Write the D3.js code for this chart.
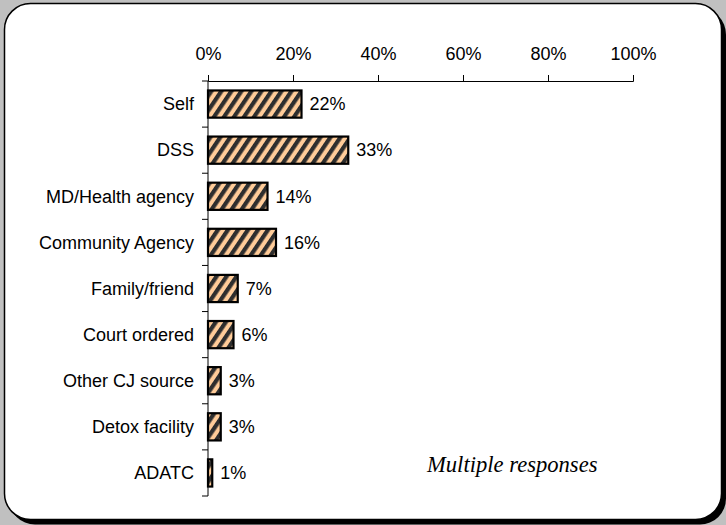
<!DOCTYPE html>
<html><head><meta charset="utf-8">
<script src="https://cdn.jsdelivr.net/npm/d3@7/dist/d3.min.js"></script>
<style>body{margin:0;background:#c0c0c0;}svg{display:block;}</style>
</head><body>
<script>
const categories = ["Self","DSS","MD/Health agency","Community Agency","Family/friend","Court ordered","Other CJ source","Detox facility","ADATC"];
const values = [22,33,14,16,7,6,3,3,1];
const tickValues = [0,20,40,60,80,100];
const note = "Multiple responses";

const W=726,H=525;
const svg=d3.select("body").append("svg").attr("width",W).attr("height",H);
const defs=svg.append("defs");
const pat=defs.append("pattern").attr("id","hatch").attr("patternUnits","userSpaceOnUse")
  .attr("width",8.3).attr("height",8.3).attr("patternTransform","rotate(34)");
pat.append("rect").attr("width",8.3).attr("height",8.3).attr("fill","#ffcc99");
pat.append("rect").attr("x",0).attr("width",4.2).attr("height",8.3).attr("fill","#2e2e2e");

svg.append("rect").attr("x",0).attr("y",0).attr("width",W).attr("height",H).attr("fill","#c0c0c0");
svg.append("rect").attr("x",9).attr("y",8.5).attr("width",717).attr("height",516).attr("rx",26).attr("fill","#000");
svg.append("rect").attr("x",4.5).attr("y",3.5).attr("width",717).attr("height",516).attr("rx",26)
  .attr("fill","#fff").attr("stroke","#000").attr("stroke-width",1.5);

const x=d3.scaleLinear().domain([0,100]).range([208,633]);
const y=d3.scaleBand().domain(categories).range([81,496]).paddingInner(0.41).paddingOuter(0.205);

const font="Liberation Sans, Arial, sans-serif";
const fs=18;

const xa=svg.append("g").attr("transform","translate(0,81)")
  .call(d3.axisTop(x).tickValues(tickValues).tickFormat(d=>d+"%").tickSize(6).tickPadding(15));
xa.select(".domain").attr("stroke","#000");
xa.selectAll("line").attr("stroke","#000");
xa.selectAll("text").attr("font-family",font).attr("font-size",fs).attr("fill","#000");

const bandStep=y.step();
const catTicks=d3.range(categories.length+1).map(i=>81+i*bandStep);
const ya=svg.append("g");
ya.append("line").attr("x1",208).attr("x2",208).attr("y1",81).attr("y2",496).attr("stroke","#000");
ya.selectAll("line.t").data(catTicks).join("line").attr("class","t")
  .attr("x1",202).attr("x2",208).attr("y1",d=>d).attr("y2",d=>d).attr("stroke","#000");
ya.selectAll("text").data(categories).join("text")
  .attr("x",194).attr("y",d=>y(d)+y.bandwidth()/2).attr("dy","0.35em")
  .attr("text-anchor","end").attr("font-family",font).attr("font-size",fs).text(d=>d);

const data=categories.map((c,i)=>({c,v:values[i]}));
svg.selectAll("rect.bar").data(data).join("rect").attr("class","bar")
  .attr("x",x(0)).attr("y",d=>y(d.c)).attr("width",d=>x(d.v)-x(0)).attr("height",y.bandwidth())
  .attr("fill","url(#hatch)").attr("stroke","#000").attr("stroke-width",2.2);

svg.selectAll("text.val").data(data).join("text").attr("class","val")
  .attr("x",d=>x(d.v)+8).attr("y",d=>y(d.c)+y.bandwidth()/2).attr("dy","0.35em")
  .attr("font-family",font).attr("font-size",fs).text(d=>d.v+"%");

svg.append("text").attr("x",427).attr("y",472).attr("font-family","Liberation Serif, Times New Roman, serif")
  .attr("font-style","italic").attr("font-size",22.6).text(note);
</script>
</body></html>
